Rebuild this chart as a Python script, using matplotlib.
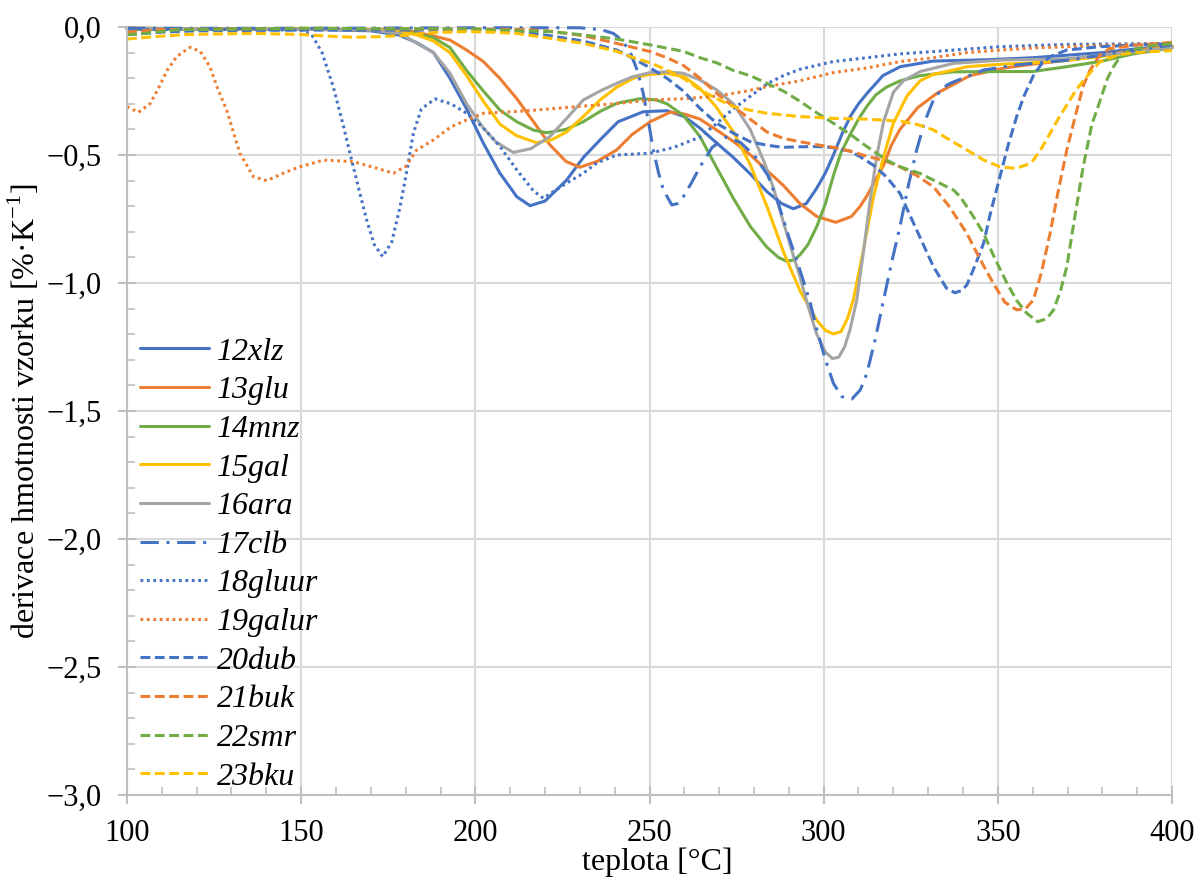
import matplotlib
matplotlib.use("Agg")
import matplotlib.pyplot as plt
from matplotlib.ticker import MultipleLocator, FuncFormatter

plt.rcParams['font.family'] = ['Liberation Serif', 'DejaVu Serif']
plt.rcParams['mathtext.fontset'] = 'custom'
plt.rcParams['mathtext.rm'] = 'Liberation Serif'

# ---------------- data ----------------
names = ["12xlz", "13glu", "14mnz", "15gal", "16ara", "17clb",
         "18gluur", "19galur", "20dub", "21buk", "22smr", "23bku"]

pts_12xlz = [(100, -0.005), (150, -0.008), (170, -0.015), (178, -0.031), (183, -0.06), (188, -0.1),
             (192.7, -0.2), (197.5, -0.32), (202.3, -0.454), (207, -0.57), (211.9, -0.663), (215.7, -0.698),
             (220, -0.68), (226.2, -0.598), (231, -0.51), (235.8, -0.441), (241, -0.37), (248.2, -0.331),
             (255, -0.327), (260, -0.35), (264.5, -0.395), (269, -0.45), (274.1, -0.51), (279, -0.575),
             (283.7, -0.643), (288, -0.69), (291.3, -0.71), (295, -0.69), (298, -0.63), (300.5, -0.57),
             (302.8, -0.5), (305.2, -0.42), (307.6, -0.35), (310, -0.3), (312.4, -0.26), (317, -0.19),
             (322, -0.155), (331.5, -0.133), (346.8, -0.128), (360, -0.12), (370, -0.11), (380, -0.1),
             (390, -0.085), (400, -0.075)]

pts_13glu = [(100, -0.005), (180, -0.012), (188, -0.035), (192.7, -0.051), (197.5, -0.09), (202.3, -0.135),
             (207, -0.2), (211.9, -0.28), (216.7, -0.37), (221.4, -0.46), (226, -0.525), (230, -0.548),
             (235, -0.525), (240.6, -0.48), (245, -0.42), (250.2, -0.37), (255.9, -0.333), (260, -0.34),
             (264.5, -0.36), (269, -0.4), (274.1, -0.447), (279, -0.5), (283.7, -0.56), (288.5, -0.62),
             (293.2, -0.69), (298, -0.74), (303.5, -0.763), (308, -0.74), (310.5, -0.7), (312.4, -0.66),
             (314.8, -0.6), (317.2, -0.54), (319.5, -0.46), (321.9, -0.4), (327, -0.315), (332.5, -0.259),
             (342, -0.19), (351.6, -0.161), (360, -0.145), (370, -0.13), (380, -0.11), (390, -0.09), (400, -0.075)]

pts_14mnz = [(100, -0.01), (150, -0.008), (175, -0.012), (183, -0.025), (188, -0.042), (192.7, -0.08),
             (197.5, -0.17), (202.3, -0.25), (207.1, -0.325), (211.9, -0.37), (216.7, -0.403), (220.5, -0.413),
             (226, -0.4), (231, -0.37), (235.8, -0.33), (240.6, -0.298), (247.3, -0.28), (252, -0.285),
             (255, -0.3), (259.7, -0.345), (264.5, -0.428), (269.3, -0.55), (274.1, -0.67), (279, -0.78),
             (283.7, -0.86), (287, -0.9), (289.4, -0.915), (291.5, -0.91), (293.2, -0.89), (295.5, -0.85),
             (298, -0.78), (300.5, -0.69), (302.8, -0.58), (305, -0.49), (307.6, -0.42), (310, -0.36),
             (312.4, -0.31), (315, -0.265), (318, -0.235), (322, -0.21), (327.7, -0.19), (337.3, -0.175),
             (350.6, -0.174), (360, -0.174), (369.8, -0.155), (379.3, -0.135), (388.9, -0.105), (400, -0.082)]

pts_15gal = [(100, -0.005), (170, -0.01), (178.4, -0.018), (183, -0.03), (188, -0.055), (192.7, -0.1),
             (197.5, -0.19), (202.3, -0.29), (207.1, -0.38), (211.9, -0.425), (217.6, -0.452), (222, -0.44),
             (226.2, -0.41), (231, -0.35), (235.8, -0.285), (240.6, -0.235), (245.4, -0.2), (250, -0.185),
             (255, -0.181), (260, -0.195), (264.5, -0.24), (269, -0.31), (274.1, -0.41), (279, -0.54),
             (283.7, -0.7), (288.5, -0.88), (293.2, -1.03), (298, -1.145), (300.5, -1.185), (302.8, -1.199),
             (305, -1.19), (306.8, -1.14), (308.5, -1.066), (311.4, -0.871), (314.3, -0.663), (317.2, -0.507),
             (320, -0.376), (323.9, -0.27), (327.7, -0.21), (331.5, -0.185), (337.3, -0.168), (341.1, -0.155),
             (351.6, -0.145), (360, -0.14), (369.8, -0.13), (380, -0.115), (390, -0.095), (400, -0.08)]

pts_16ara = [(100, -0.005), (165, -0.01), (170, -0.012), (178.4, -0.025), (184, -0.07), (188, -0.1),
             (192.7, -0.18), (197.5, -0.3), (202.3, -0.395), (206, -0.45), (210.9, -0.49), (216, -0.475),
             (221.4, -0.428), (226, -0.36), (231, -0.285), (235.8, -0.25), (240.6, -0.22), (245, -0.195),
             (250.2, -0.178), (255, -0.175), (259.7, -0.181), (264.5, -0.207), (269.3, -0.246), (274.1, -0.3),
             (278.9, -0.4), (283, -0.53), (285.6, -0.63), (288.4, -0.76), (291, -0.88), (293.2, -0.975),
             (295.5, -1.09), (298, -1.2), (300.5, -1.27), (302.5, -1.295), (304.3, -1.29), (306, -1.25),
             (307.6, -1.18), (309.5, -1.066), (311.4, -0.88), (313.3, -0.68), (315.3, -0.5), (317.2, -0.37),
             (320, -0.255), (322.9, -0.21), (327.7, -0.174), (337.3, -0.142), (351.6, -0.129), (369.8, -0.124),
             (380, -0.11), (390, -0.095), (400, -0.08)]

pts_17clb = [(100, -0.005), (150, -0.005), (200, -0.003), (230, -0.003), (236, -0.01), (239.6, -0.025),
             (242, -0.05), (244.4, -0.096), (246.5, -0.17), (248.2, -0.259), (249.7, -0.37), (251.1, -0.48),
             (252.6, -0.57), (254, -0.637), (256.4, -0.695), (258, -0.69), (259.7, -0.663), (262, -0.61),
             (264.5, -0.546), (268, -0.47), (272, -0.43), (276, -0.45), (280, -0.5), (284, -0.58), (287, -0.69),
             (290, -0.82), (293.2, -0.95), (296, -1.07), (298, -1.18), (300.5, -1.3), (302.8, -1.392),
             (305.2, -1.444), (308.1, -1.453), (310.5, -1.418), (312.4, -1.353), (314.8, -1.22), (317.2, -1.066),
             (319.5, -0.92), (321.9, -0.78), (324.3, -0.62), (326.7, -0.48), (329, -0.37), (331.5, -0.285),
             (334, -0.24), (336.3, -0.22), (345.9, -0.168), (355.4, -0.148), (369.8, -0.13), (380, -0.11),
             (390, -0.09), (400, -0.07)]

pts_18gluur = [(100, -0.01), (130, -0.01), (150, -0.012), (153, -0.03), (156, -0.1), (159.2, -0.233),
               (162, -0.38), (164, -0.493), (166.5, -0.63), (168.8, -0.754), (171, -0.85), (173.4, -0.897),
               (176, -0.84), (178.4, -0.702), (180.5, -0.55), (182.2, -0.415), (184.5, -0.32), (188.4, -0.281),
               (193, -0.3), (197.5, -0.337), (202, -0.39), (207.1, -0.467), (212, -0.56), (216.7, -0.64),
               (219.5, -0.669), (225, -0.62), (231, -0.571), (235, -0.53), (240.6, -0.5), (250.2, -0.493),
               (257, -0.47), (264.5, -0.43), (269, -0.38), (274, -0.32), (279, -0.27), (284, -0.22),
               (288.4, -0.19), (293.2, -0.165), (298, -0.15), (302.8, -0.135), (312.4, -0.12), (321.9, -0.105),
               (331.5, -0.096), (350.6, -0.077), (369.8, -0.068), (400, -0.064)]

pts_19galur = [(100, -0.311), (103.3, -0.333), (106.6, -0.3), (109, -0.24), (111.5, -0.17), (114.3, -0.115),
               (118.1, -0.079), (121, -0.095), (123.8, -0.155), (126, -0.24), (128.6, -0.324), (132.4, -0.493),
               (136.3, -0.585), (140.1, -0.6), (145.9, -0.565), (149.7, -0.546), (156.4, -0.52), (165, -0.526),
               (170, -0.545), (176.5, -0.571), (180, -0.545), (183.2, -0.48), (188, -0.441), (193, -0.39),
               (197.5, -0.363), (202.3, -0.337), (207.1, -0.333), (214, -0.328), (221.4, -0.32), (230, -0.31),
               (240, -0.3), (250.2, -0.285), (260, -0.28), (269.3, -0.27), (278, -0.25), (283.7, -0.233),
               (293.2, -0.21), (302.8, -0.178), (312.4, -0.16), (321.9, -0.135), (331.5, -0.12), (341, -0.1),
               (350.6, -0.09), (360, -0.082), (369.8, -0.077), (388.9, -0.068), (400, -0.064)]

pts_20dub = [(100, -0.03), (110, -0.02), (120, -0.015), (150, -0.012), (200, -0.012), (207, -0.012),
             (214, -0.02), (221.4, -0.034), (231, -0.055), (240.6, -0.09), (245, -0.12), (250.2, -0.16),
             (255, -0.2), (259.7, -0.25), (264.5, -0.318), (269.3, -0.376), (274.1, -0.415), (278.9, -0.448),
             (283.7, -0.462), (288.4, -0.47), (293, -0.468), (298, -0.467), (302, -0.47), (307.6, -0.485),
             (310.5, -0.507), (314.3, -0.54), (318, -0.585), (321.9, -0.65), (326.7, -0.793), (331.5, -0.936),
             (335.3, -1.021), (337.7, -1.038), (339.5, -1.03), (341.1, -1.008), (343.5, -0.93), (345.9, -0.845),
             (348, -0.72), (350.6, -0.585), (353, -0.46), (355.4, -0.35), (357.5, -0.27), (360.2, -0.19),
             (362.5, -0.145), (365, -0.116), (369.8, -0.09), (379.3, -0.077), (390, -0.07), (400, -0.065)]

pts_21buk = [(100, -0.02), (110, -0.01), (150, -0.005), (200, -0.008), (214, -0.01), (221.4, -0.016),
             (231, -0.034), (240.6, -0.064), (250.2, -0.096), (255, -0.12), (259.7, -0.15), (264.5, -0.2),
             (269.3, -0.259), (274, -0.31), (278.9, -0.36), (283.7, -0.41), (288.4, -0.435), (293.2, -0.448),
             (298, -0.46), (302.8, -0.47), (307.6, -0.485), (312.4, -0.505), (317, -0.52), (321.9, -0.546),
             (326.7, -0.58), (331.5, -0.624), (336, -0.7), (341.1, -0.806), (345, -0.91), (348.7, -1.001),
             (352, -1.075), (355.4, -1.105), (358, -1.1), (360.2, -1.066), (362.5, -0.96), (365, -0.806),
             (367.5, -0.63), (369.8, -0.48), (372.7, -0.324), (374.5, -0.23), (376.5, -0.168), (379.3, -0.11),
             (382, -0.085), (388.9, -0.072), (400, -0.06)]

pts_22smr = [(100, -0.03), (105, -0.025), (115, -0.01), (150, -0.005), (200, -0.008), (207.1, -0.012),
             (221.4, -0.018), (231, -0.031), (240.6, -0.047), (250.2, -0.07), (259.7, -0.095), (264.5, -0.12),
             (269.3, -0.14), (274.1, -0.17), (278.9, -0.19), (283.7, -0.22), (288.4, -0.25), (293.2, -0.29),
             (298, -0.335), (302.8, -0.376), (308.5, -0.428), (312.4, -0.467), (318.1, -0.52), (321.9, -0.546),
             (327.7, -0.572), (331.5, -0.598), (337.3, -0.637), (339.2, -0.663), (342.5, -0.73), (345.9, -0.806),
             (349, -0.9), (352.6, -1.0), (355.5, -1.07), (358.3, -1.118), (361.4, -1.151), (364, -1.14),
             (366, -1.105), (368, -1.03), (369.8, -0.936), (372, -0.75), (374.5, -0.546), (377, -0.38),
             (379.3, -0.29), (381.5, -0.2), (383.2, -0.155), (384.5, -0.129), (387, -0.096), (393, -0.075),
             (400, -0.065)]

pts_23bku = [(100, -0.047), (107.6, -0.038), (117.2, -0.029), (136.3, -0.025), (149.7, -0.029), (157, -0.035),
             (165, -0.04), (172, -0.038), (179.3, -0.033), (188, -0.022), (197.5, -0.018), (204, -0.02),
             (211.9, -0.025), (221.4, -0.044), (231, -0.064), (235.8, -0.08), (240.6, -0.095), (245.4, -0.12),
             (250.2, -0.14), (255, -0.168), (259.7, -0.2), (264.5, -0.245), (269.3, -0.28), (274.1, -0.311),
             (278.9, -0.325), (283.7, -0.337), (293.2, -0.35), (302.8, -0.357), (312.4, -0.36), (321.9, -0.368),
             (326.7, -0.38), (331.5, -0.402), (336, -0.44), (341.1, -0.48), (346, -0.52), (350.6, -0.546),
             (355, -0.552), (358, -0.54), (360.2, -0.52), (362.5, -0.475), (365, -0.415), (367.5, -0.355),
             (369.8, -0.305), (372.5, -0.245), (375.5, -0.194), (379.3, -0.136), (384.1, -0.111), (388.9, -0.1),
             (400, -0.092)]

series = [pts_12xlz, pts_13glu, pts_14mnz, pts_15gal, pts_16ara, pts_17clb,
          pts_18gluur, pts_19galur, pts_20dub, pts_21buk, pts_22smr, pts_23bku]

x_ticks = [100, 150, 200, 250, 300, 350, 400]
y_ticks = [0.0, -0.5, -1.0, -1.5, -2.0, -2.5, -3.0]

# ---------------- styles ----------------
BLUE, ORANGE, GREEN, YELLOW, GRAY = "#4472C4", "#ED7D31", "#70AD47", "#FFC000", "#A5A5A5"
colors = [BLUE, ORANGE, GREEN, YELLOW, GRAY, BLUE, BLUE, ORANGE, BLUE, ORANGE, GREEN, YELLOW]
solid = '-'
dashdot = (0, (6, 2.5, 1, 2.5))
dotted = (0, (0.9, 1.2))
dashed = (0, (3.2, 1.5))
styles = [solid] * 5 + [dashdot, dotted, dotted, dashed, dashed, dashed, dashed]

fig = plt.figure(figsize=(12.01, 8.84), dpi=100)
ax = fig.add_axes([127 / 1201, 1 - 795 / 884, 1045 / 1201, 768 / 884])

for pts, c, ls, nm in zip(series, colors, styles, names):
    xs = [p[0] for p in pts]
    ys = [p[1] for p in pts]
    ax.plot(xs, ys, color=c, linestyle=ls, linewidth=2.2, label=nm,
            solid_joinstyle='round', solid_capstyle='round', clip_on=False)

ax.set_xlim(100, 400)
ax.set_ylim(-3.0, 0.0)
ax.set_xticks(x_ticks)
ax.set_yticks(y_ticks)
ax.xaxis.set_minor_locator(MultipleLocator(10))
ax.yaxis.set_minor_locator(MultipleLocator(0.1))

def fmt(v, pos):
    if abs(v) < 1e-9:
        return "0,0"
    s = f"{v:.1f}".replace('.', ',')
    return s.replace('-', '\u2212')

ax.yaxis.set_major_formatter(FuncFormatter(fmt))
ax.xaxis.set_major_formatter(FuncFormatter(lambda v, p: f"{int(round(v))}"))

GRID = "#D9D9D9"
AXC = "#BFBFBF"
ax.grid(True, which='major', color=GRID, linewidth=1.5)
ax.set_axisbelow(True)
for s in ['top', 'right']:
    ax.spines[s].set_visible(False)
for s in ['left', 'bottom']:
    ax.spines[s].set_color(AXC)
    ax.spines[s].set_linewidth(1.5)

ax.tick_params(axis='both', which='major', direction='inout', length=13, width=1.5,
               color=AXC, labelsize=22, labelcolor='black')
ax.tick_params(axis='both', which='minor', direction='in', length=6, width=1.2, color=AXC)
ax.tick_params(axis='x', which='major', pad=11)
ax.tick_params(axis='y', which='major', pad=12)

ax.set_xlabel("teplota [°C]", fontsize=23)
ax.xaxis.set_label_coords(0.507, -0.069)
ax.set_ylabel("derivace hmotnosti vzorku [%·K$^{\u2212 1}$]", fontsize=23, labelpad=3)

leg = ax.legend(loc='upper left', bbox_to_anchor=(0.0124, 0.596), frameon=False,
                prop={'family': 'Liberation Serif', 'style': 'italic', 'size': 23},
                handlelength=2.16, handletextpad=0.24, labelspacing=0.29,
                borderpad=0, borderaxespad=0)

fig.savefig("out.png", dpi=100)
